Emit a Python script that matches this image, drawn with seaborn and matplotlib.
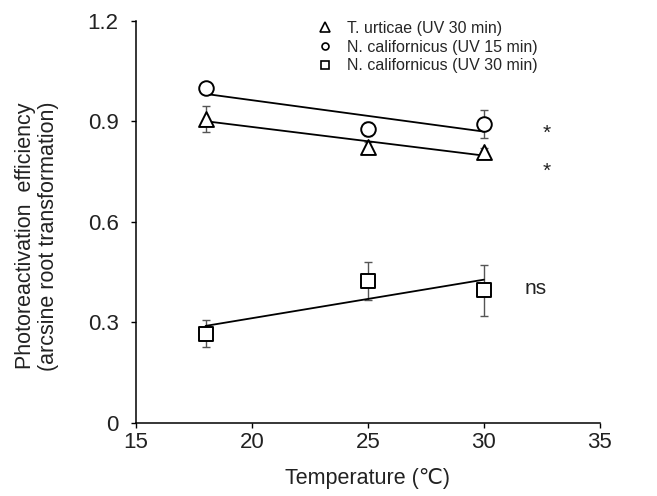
import matplotlib
matplotlib.use('Agg')
import matplotlib.pyplot as plt
from matplotlib.lines import Line2D
import seaborn as sns
import numpy as np
import pandas as pd

# ---------------- data ----------------
temps = [18, 25, 30]
tu30 = [0.907, 0.824, 0.807]
tu30_err = [0.038, 0.015, 0.012]
nc15 = [0.998, 0.877, 0.892]
nc15_err = [0.010, 0.020, 0.042]
nc30 = [0.266, 0.424, 0.395]
nc30_err = [0.041, 0.057, 0.076]
series_labels = ['T. urticae (UV 30 min)', 'N. californicus (UV 15 min)',
                 'N. californicus (UV 30 min)']
series_markers = ['^', 'o', 's']
signif_labels = ['*', '*', 'ns']
xticks = [15, 20, 25, 30, 35]
yticks = [0, 0.3, 0.6, 0.9, 1.2]
ytick_labels = ['0', '0.3', '0.6', '0.9', '1.2']

# ---------------- style ----------------
sns.set_style('ticks')
plt.rcParams['font.family'] = ['Liberation Sans', 'DejaVu Sans']

fig = plt.figure(figsize=(6.57, 4.96), dpi=100)
ax = fig.add_axes([0.207, 0.148, 0.706, 0.810])

vals_list = [tu30, nc15, nc30]
errs_list = [tu30_err, nc15_err, nc30_err]
marker_sizes = [115, 110, 105]

for vals, errs, lab, mk, ms in zip(vals_list, errs_list, series_labels,
                                   series_markers, marker_sizes):
    df = pd.DataFrame({'temp': temps, 'val': vals, 'err': errs})
    ax.errorbar(df['temp'], df['val'], yerr=df['err'], fmt='none',
                ecolor='#555555', elinewidth=1.0, capsize=2.6, capthick=1.0,
                zorder=2)
    sns.regplot(data=df, x='temp', y='val', ax=ax, ci=None, scatter=False,
                truncate=True, line_kws=dict(color='black', lw=1.3, zorder=3))
    sns.scatterplot(data=df, x='temp', y='val', ax=ax, marker=mk, s=ms,
                    color='white', edgecolor='black', linewidth=1.4,
                    zorder=4, legend=False)

# significance marks
sig_x = [32.55, 32.55, 31.75]
sig_y = [0.849, 0.734, 0.383]
for sx, sy, txt in zip(sig_x, sig_y, signif_labels):
    ax.text(sx, sy, txt, ha='left', va='baseline', fontsize=15, color='#222222')

# legend
handles = [Line2D([], [], linestyle='none', marker=m, markersize=s,
                  markerfacecolor='white', markeredgecolor='black',
                  markeredgewidth=1.2)
           for m, s in zip(series_markers, [7, 5, 5.5])]
ax.legend(handles, series_labels, loc='upper left',
          bbox_to_anchor=(0.39, 1.0), frameon=False, fontsize=11.5,
          borderpad=0, borderaxespad=0, handlelength=1.0,
          handletextpad=0.9, labelspacing=0.23)

# axes
ax.set_xlim(15, 35)
ax.set_ylim(0, 1.2)
ax.set_xticks(xticks)
ax.set_yticks(yticks)
ax.set_yticklabels(ytick_labels)
sns.despine(ax=ax)
for sp in ['left', 'bottom']:
    ax.spines[sp].set_linewidth(1.1)
    ax.spines[sp].set_color('black')
ax.tick_params(axis='x', direction='out', length=3.5, width=1.0,
               labelsize=16, pad=3, colors='black', labelcolor='#222222')
ax.tick_params(axis='y', direction='out', length=3.5, width=1.0,
               labelsize=16, pad=9, colors='black', labelcolor='#222222')

ax.set_xlabel('Temperature (\u2103)', fontsize=15.5, color='#222222', labelpad=11)
ax.set_ylabel('Photoreactivation  efficiency\n(arcsine root transformation)',
              fontsize=15.5, color='#222222', linespacing=1.15)
ax.yaxis.set_label_coords(-0.165, 0.465)

fig.savefig('out.png', dpi=100)
